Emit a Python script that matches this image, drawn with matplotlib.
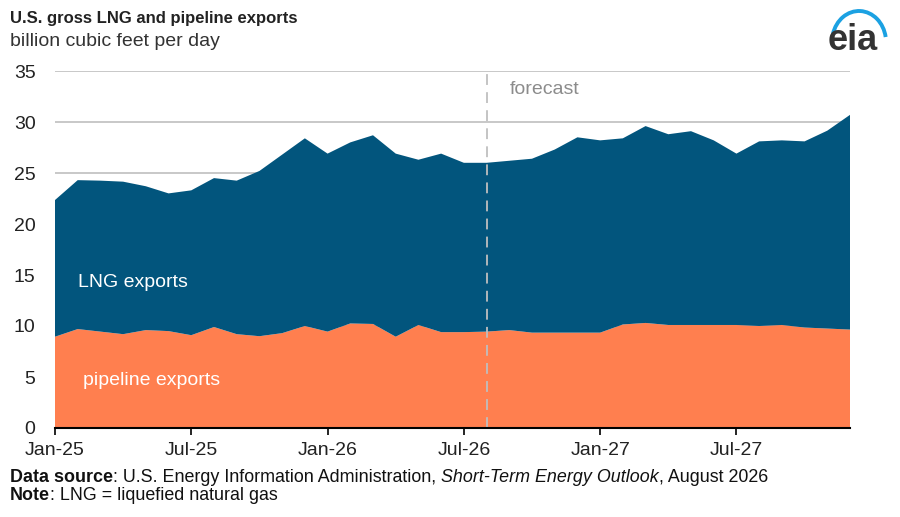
import matplotlib
matplotlib.use("Agg")
import matplotlib.pyplot as plt
from matplotlib.patches import Arc
import numpy as np

plt.rcParams['font.family'] = ['Liberation Sans', 'DejaVu Sans']

# monthly values, Jan-25 .. Dec-27 (billion cubic feet per day)
months = ['Jan-25', 'Feb-25', 'Mar-25', 'Apr-25', 'May-25', 'Jun-25',
          'Jul-25', 'Aug-25', 'Sep-25', 'Oct-25', 'Nov-25', 'Dec-25',
          'Jan-26', 'Feb-26', 'Mar-26', 'Apr-26', 'May-26', 'Jun-26',
          'Jul-26', 'Aug-26', 'Sep-26', 'Oct-26', 'Nov-26', 'Dec-26',
          'Jan-27', 'Feb-27', 'Mar-27', 'Apr-27', 'May-27', 'Jun-27',
          'Jul-27', 'Aug-27', 'Sep-27', 'Oct-27', 'Nov-27', 'Dec-27']
pipeline = [8.95, 9.7, 9.45, 9.2, 9.6, 9.5, 9.1, 9.9, 9.2, 9.0, 9.3, 10.0,
            9.45, 10.25, 10.2, 8.95, 10.1, 9.4, 9.4, 9.45, 9.6, 9.35, 9.35, 9.35,
            9.35, 10.15, 10.3, 10.1, 10.1, 10.1, 10.1, 10.0, 10.1, 9.85, 9.75, 9.65]
total = [22.35, 24.3, 24.25, 24.15, 23.7, 23.0, 23.3, 24.5, 24.25, 25.2, 26.8, 28.4,
         26.9, 28.0, 28.7, 26.9, 26.3, 26.9, 26.0, 26.0, 26.2, 26.4, 27.3, 28.5,
         28.2, 28.4, 29.6, 28.8, 29.1, 28.2, 26.9, 28.1, 28.2, 28.1, 29.15, 30.7]
lng = [t - p for t, p in zip(total, pipeline)]
tick_labels = ['Jan-25', 'Jul-25', 'Jan-26', 'Jul-26', 'Jan-27', 'Jul-27']
forecast_start = 'Aug-26'

blue = '#02557d'
orange = '#ff7f4f'
fs = 14

x = np.arange(len(months))

fig = plt.figure(figsize=(9, 5.17), dpi=100)
ax = fig.add_axes([55/900, 89/517, 795/900, 357/517])

ax.stackplot(x, pipeline, lng, colors=[orange, blue], linewidth=0)

ax.set_xlim(0, len(months) - 1)
ax.set_ylim(0, 35)
ax.set_yticks(range(0, 36, 5))
ax.set_xticks([months.index(m) for m in tick_labels])
ax.set_xticklabels(tick_labels)
ax.tick_params(axis='y', length=0, labelsize=fs, pad=14, labelcolor='#222222')
ax.tick_params(axis='x', length=5, width=1.2, labelsize=fs, color='black',
               labelcolor='#222222', direction='out', pad=5)

for yv in range(5, 36, 5):
    ax.axhline(yv, color='#bfbfbf', lw=1.2, zorder=0)
ax.set_axisbelow(True)

for s in ['top', 'right', 'left']:
    ax.spines[s].set_visible(False)
ax.spines['bottom'].set_linewidth(1.5)
ax.spines['bottom'].set_color('black')
ax.spines['bottom'].set_zorder(5)

fx = months.index(forecast_start)
ax.axvline(fx, color='#bfbfbf', lw=1.3, ls=(0, (6, 4)), zorder=3)
ax.text(fx + 1, 33.2, 'forecast', color='#8c8c8c', fontsize=fs, va='center')

ax.text(1.0, 14.3, 'LNG exports', color='white', fontsize=fs, va='center')
ax.text(1.25, 4.7, 'pipeline exports', color='white', fontsize=fs, va='center')

# titles
fig.text(10/900, 1 - 18/517, 'U.S. gross LNG and pipeline exports', fontsize=12,
         fontweight='bold', color='#222222', va='center')
fig.text(10/900, 1 - 41/517, 'billion cubic feet per day', fontsize=fs,
         color='#333333', va='center')


def chain(y, pieces):
    # place text pieces one after another on a line
    renderer = fig.canvas.get_renderer()
    xpos = 10 / 900
    for txt, kw in pieces:
        t = fig.text(xpos, y, txt, fontsize=12.9, color='#111111', va='center', **kw)
        bb = t.get_window_extent(renderer=renderer)
        xpos = bb.x1 / fig.bbox.width


chain(1 - 477/517, [('Data source', {'fontweight': 'bold'}),
                    (': U.S. Energy Information Administration, ', {}),
                    ('Short-Term Energy Outlook', {'style': 'italic'}),
                    (', August 2026', {})])
chain(1 - 495/517, [('Note', {'fontweight': 'bold'}),
                    (': LNG = liquefied natural gas', {})])

# eia logo
fig.text(853/900, 1 - 40/517, 'eia', fontsize=26, fontweight='bold',
         color='#333333', ha='center', va='center')
arc = Arc((859/900, 1 - 42/517), 54/900, 62/517, theta1=18, theta2=152,
          color='#1ba1e2', lw=2.8, transform=fig.transFigure)
fig.add_artist(arc)

fig.savefig('out.png', dpi=100)
